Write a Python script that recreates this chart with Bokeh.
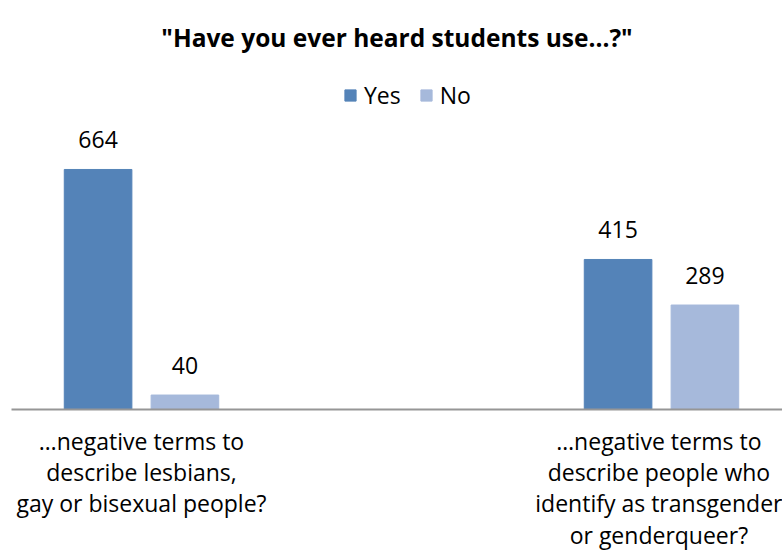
from bokeh.plotting import figure
from bokeh.models import Range1d, FixedTicker, ColumnDataSource, Legend, LegendItem
from bokeh.transform import dodge
from bokeh.core.properties import value
from bokeh.embed import file_html
from bokeh.resources import INLINE

# ---- data ----
title_text = '"Have you ever heard students use...?"'
categories = [
    "\u2026negative terms to\ndescribe lesbians,\ngay or bisexual people?",
    "\u2026negative terms to\ndescribe people who\nidentify as transgender\nor genderqueer?",
]
series = ["Yes", "No"]
yes_values = [664, 415]
no_values = [40, 289]

# ---- style ----
FONT = "Open Sans"
YES_COLOR = "#5483B8"
NO_COLOR = "#A6B9DB"

src = ColumnDataSource(dict(
    x=list(range(len(categories))),
    yes=yes_values,
    no=no_values,
    yes_lbl=[str(v) for v in yes_values],
    no_lbl=[str(v) for v in no_values],
))

TOP = 53
p = figure(width=782, height=553, output_backend="svg", toolbar_location=None,
           x_range=Range1d(-0.25, 1.2327), y_range=Range1d(0, (410 - TOP) / 0.3625),
           min_border_left=11, min_border_right=0, min_border_top=TOP,
           min_border_bottom=143, outline_line_color=None)
p.background_fill_color = "white"
p.border_fill_color = "white"
p.yaxis.visible = False
p.xgrid.visible = False
p.ygrid.visible = False

p.title.text = title_text
p.title.align = "center"
p.title.offset = 5
p.title.standoff = 0
p.title.text_font = FONT
p.title.text_font_size = "24.5px"
p.title.text_font_style = "bold"
p.title.text_color = "#000000"

OFF = 0.0835
W = 0.13
r_yes = p.vbar(x=dodge("x", -OFF, range=p.x_range), top="yes", bottom=0, width=W,
               source=src, fill_color=YES_COLOR, line_color=YES_COLOR)
r_no = p.vbar(x=dodge("x", OFF, range=p.x_range), top="no", bottom=0, width=W,
              source=src, fill_color=NO_COLOR, line_color=NO_COLOR)

for col, lbl, off in (("yes", "yes_lbl", -OFF), ("no", "no_lbl", OFF)):
    p.text(x=dodge("x", off, range=p.x_range), y=col, text=lbl, source=src,
           text_align="center", text_baseline="alphabetic", y_offset=-30,
           text_font=value(FONT), text_font_size="23px", text_color="#000000")

ax = p.xaxis[0]
ax.ticker = FixedTicker(ticks=list(range(len(categories))))
ax.major_label_overrides = {i: c for i, c in enumerate(categories)}
ax.major_tick_line_color = None
ax.major_tick_out = 0
ax.major_tick_in = 0
ax.minor_tick_line_color = None
ax.minor_tick_out = 0
ax.axis_line_color = "#969696"
ax.axis_line_width = 2
ax.major_label_text_font = FONT
ax.major_label_text_font_size = "23px"
ax.major_label_text_color = "#000000"
ax.major_label_standoff = 15
ax.major_label_text_line_height = 0.98

legend = Legend(items=[LegendItem(label=series[0], renderers=[r_yes]),
                       LegendItem(label=series[1], renderers=[r_no])],
                orientation="horizontal", location=(332, 298),
                border_line_color=None, background_fill_alpha=0,
                glyph_width=14, glyph_height=14, label_standoff=7, spacing=18,
                padding=0, margin=0,
                label_text_font=FONT, label_text_font_size="23px",
                label_text_color="#000000")
p.add_layout(legend)

open("out.html", "w").write(file_html(p, INLINE))
